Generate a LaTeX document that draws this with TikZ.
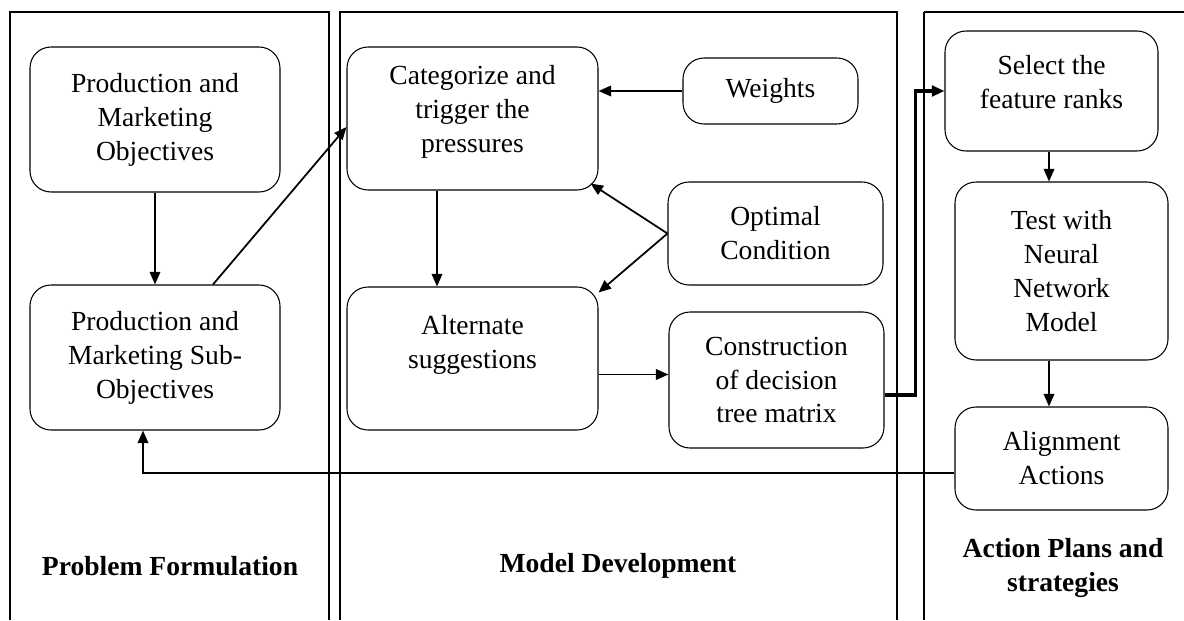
\documentclass[tikz,border=0pt]{standalone}
\usepackage{fontspec}
\setmainfont{Liberation Serif}
\usetikzlibrary{arrows.meta}

\begin{document}
\begin{tikzpicture}[
        font=\fontsize{15.7}{19.3}\selectfont,
        box/.style={draw, rounded corners=0.42cm, align=center, line width=0.6pt, inner sep=0pt},
        arr/.style={-{Triangle[length=0.25cm,width=0.21cm]}, line width=1pt},
        panel/.style={line width=0.8pt},
        heading/.style={font=\fontsize{15.7}{19.3}\selectfont\bfseries, align=center}
    ]

        \useasboundingbox (0, 0) rectangle (23.68, 12.4);

        % the three panels
        \draw[panel] (0.2, 0) -- (0.2, 12.16) -- (6.58, 12.16) -- (6.58, 0);
        \draw[panel] (6.8, 0) -- (6.8, 12.16) -- (17.94, 12.16) -- (17.94, 0);
        \draw[panel] (23.68, 12.16) -- (18.48, 12.16);
        \draw[line width=1.3pt] (18.48, 12.16) -- (18.48, 0);

        % problem formulation
        \node[box, minimum width=5cm, minimum height=2.9cm] (pmo) at (3.1, 10.01) {Production and\\Marketing\\Objectives};
        \node[box, minimum width=5cm, minimum height=2.9cm] (pmsub) at (3.1, 5.25) {Production and\\Marketing Sub-\\Objectives};
        \node[heading] (pf) at (3.4, 1.08) {Problem Formulation};

        % model development
        \node[box, minimum width=5.02cm, minimum height=2.86cm] (cat) at (9.45, 10.03) {Categorize and\\trigger the\\pressures\\[-0.3cm]~};
        \node[box, minimum width=5.02cm, minimum height=2.86cm] (alt) at (9.45, 5.23) {Alternate\\suggestions\\~};
        \node[box, minimum width=3.5cm, minimum height=1.32cm] (wts) at (15.41, 10.58) {Weights};
        \node[box, minimum width=4.3cm, minimum height=2.06cm] (opt) at (15.51, 7.73) {Optimal\\Condition};
        \node[box, minimum width=4.3cm, minimum height=2.72cm] (con) at (15.53, 4.8) {Construction\\of decision\\tree matrix};
        \node[heading] (md) at (12.36, 1.08) {Model Development};

        % action plans
        \node[box, minimum width=4.26cm, minimum height=2.4cm] (sel) at (21.03, 10.58) {Select the\\feature ranks\\[-0.3cm]~};
        \node[box, minimum width=4.26cm, minimum height=3.56cm] (test) at (21.23, 6.98) {Test with\\Neural\\Network\\Model};
        \node[box, minimum width=4.26cm, minimum height=2.06cm] (aln) at (21.23, 3.23) {Alignment\\Actions};
        \node[heading] (ap) at (21.26, 1.04) {Action Plans and\\strategies};

        % connectors
        \draw[arr] (pmo.south) -- (pmsub.north);
        \draw[arr] ([xshift=1.16cm]pmsub.north) -- ([yshift=-0.17cm]cat.west);
        \draw[arr] (wts.west) -- (wts.west -| cat.east);
        \draw[arr] (opt.west) -- ([xshift=-0.16cm, yshift=0.14cm]cat.south east);
        \draw[arr] (opt.west) -- ([yshift=-0.12cm]alt.north east);
        \draw[arr] ([xshift=-0.71cm]cat.south) -- ([xshift=-0.71cm]alt.north);
        \draw[arr] ([yshift=-0.32cm]alt.east) -- ([yshift=-0.32cm]alt.east -| con.west);
        \draw[arr, line width=1.8pt] ([yshift=-0.3cm]con.east) -- ++(0.62, 0) |- (sel.west);
        \draw[arr] ([xshift=-0.05cm]sel.south) -- ([xshift=-0.05cm]sel.south |- test.north);
        \draw[arr] ([xshift=-0.25cm]test.south) -- ([xshift=-0.25cm]test.south |- aln.north);
        \draw[arr] ([yshift=-0.29cm]aln.west) -| ([xshift=-0.24cm]pmsub.south);

    \end{tikzpicture}
\end{document}
